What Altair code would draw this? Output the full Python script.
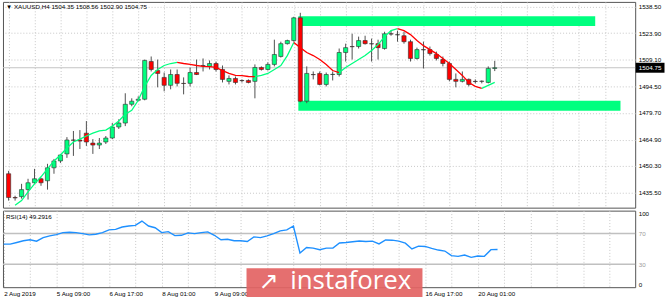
import altair as alt
import pandas as pd

FONT = "Liberation Sans"

# ---- data ----
opens = [1446.0, 1432.8, 1433.3, 1437.2, 1441.0, 1443.2, 1442.1, 1449.3, 1453.1, 1457.0,
         1464.7, 1464.7, 1468.5, 1463.0, 1461.9, 1463.6, 1465.8, 1471.9, 1474.1, 1484.5,
         1486.7, 1487.3, 1508.2, 1503.2, 1499.4, 1495.0, 1501.0, 1496.1, 1496.1, 1502.1,
         1506.0, 1505.5, 1507.1, 1503.8, 1497.2, 1498.8, 1497.7, 1497.7, 1497.2, 1504.9,
         1503.8, 1506.6, 1511.0, 1518.1, 1519.8, 1532.4, 1486.2, 1501.0, 1501.6, 1495.5,
         1501.0, 1501.0, 1513.2, 1516.5, 1516.5, 1519.8, 1518.1, 1518.1, 1515.4, 1523.6,
         1523.1, 1522.5, 1519.2, 1509.9, 1514.8, 1514.8, 1512.1, 1509.3, 1507.1, 1498.3,
         1497.2, 1498.3, 1497.2, 1497.2, 1496.6, 1504.35]
closes = [1432.8, 1432.6, 1437.2, 1441.0, 1443.2, 1441.0, 1449.3, 1453.1, 1456.4, 1464.7,
          1464.6, 1464.1, 1463.6, 1461.9, 1463.0, 1465.8, 1471.9, 1474.1, 1484.5, 1486.2,
          1487.3, 1508.8, 1503.8, 1501.6, 1495.0, 1501.0, 1496.1, 1496.0, 1502.1, 1501.0,
          1505.8, 1507.1, 1503.8, 1498.3, 1498.8, 1496.6, 1497.6, 1496.6, 1504.9, 1503.8,
          1506.6, 1512.1, 1518.1, 1519.8, 1532.4, 1486.2, 1501.6, 1500.9, 1495.5, 1501.0,
          1501.1, 1513.2, 1515.9, 1516.4, 1519.8, 1518.1, 1518.0, 1515.9, 1523.6, 1523.4,
          1523.0, 1519.2, 1509.9, 1514.8, 1514.7, 1512.6, 1509.9, 1507.1, 1498.3, 1497.2,
          1498.3, 1495.5, 1497.1, 1497.3, 1504.4, 1504.75]
highs = [1447.6, 1433.8, 1440.4, 1443.2, 1448.7, 1443.8, 1451.5, 1454.2, 1457.0, 1466.3,
         1469.7, 1470.2, 1475.2, 1465.2, 1465.8, 1466.9, 1474.1, 1476.2, 1490.6, 1487.8,
         1488.9, 1509.3, 1511.0, 1509.3, 1502.1, 1503.8, 1503.8, 1499.4, 1504.9, 1509.3,
         1509.9, 1508.8, 1508.2, 1506.0, 1500.5, 1499.9, 1498.3, 1498.3, 1506.6, 1505.5,
         1507.7, 1520.3, 1519.2, 1520.3, 1533.0, 1535.2, 1505.5, 1502.7, 1502.7, 1502.1,
         1502.7, 1515.4, 1518.1, 1523.6, 1522.0, 1522.5, 1520.9, 1520.3, 1524.7, 1525.3,
         1525.3, 1524.7, 1520.3, 1515.9, 1519.2, 1516.5, 1513.7, 1511.0, 1508.2, 1501.6,
         1502.7, 1498.8, 1498.3, 1497.7, 1505.5, 1508.56]
lows = [1431.1, 1431.1, 1432.2, 1431.7, 1440.4, 1439.3, 1437.2, 1446.0, 1452.0, 1454.8,
        1455.9, 1459.7, 1461.4, 1457.0, 1459.7, 1462.5, 1465.2, 1470.8, 1472.4, 1483.4,
        1486.2, 1486.7, 1502.7, 1493.9, 1491.7, 1492.8, 1494.4, 1490.0, 1494.4, 1500.7,
        1502.7, 1503.8, 1502.7, 1496.6, 1495.5, 1495.5, 1496.6, 1496.1, 1487.8, 1503.2,
        1503.2, 1505.5, 1510.4, 1517.6, 1519.2, 1485.6, 1485.1, 1498.3, 1495.0, 1494.4,
        1497.7, 1499.9, 1508.2, 1509.3, 1515.4, 1517.6, 1508.2, 1509.3, 1514.8, 1522.5,
        1519.2, 1518.1, 1508.2, 1509.3, 1504.4, 1511.5, 1508.8, 1505.5, 1497.2, 1493.9,
        1496.6, 1494.4, 1496.1, 1496.1, 1496.1, 1502.90]

ma_values = [None, 1428.5, 1431.1, 1436.0, 1440.4, 1444.3, 1448.7, 1453.1, 1456.4, 1460.3,
             1463.6, 1465.2, 1466.9, 1468.5, 1469.7, 1470.2, 1472.4, 1475.2, 1479.0, 1481.2,
             1486.7, 1494.4, 1500.5, 1503.8, 1506.0, 1507.1, 1507.7, 1507.1, 1506.6, 1506.0,
             1505.5, 1505.4, 1504.9, 1503.2, 1501.6, 1500.5, 1500.4, 1499.9, 1499.8, 1500.5,
             1501.6, 1503.8, 1506.0, 1511.5, 1518.7, 1515.9, 1513.2, 1511.5, 1509.3, 1506.6,
             1503.2, 1502.1, 1504.9, 1507.1, 1509.3, 1511.5, 1514.3, 1517.6, 1522.0, 1525.3,
             1526.4, 1525.3, 1523.1, 1519.8, 1517.0, 1514.8, 1512.6, 1509.9, 1507.1, 1503.8,
             1500.5, 1496.6, 1494.4, 1493.3, 1495.0, 1496.6]
ma_turns = [1, 26, 38, 44, 51, 60, 73, 75]

rsi_values = [56.2, 56.2, 58.4, 60.6, 61.9, 60.1, 64.8, 67.0, 68.7, 71.3,
              71.7, 71.3, 70.0, 68.3, 69.1, 71.3, 74.8, 75.5, 78.6, 79.9,
              80.7, 86.4, 79.9, 77.7, 71.3, 72.6, 67.4, 67.8, 70.9, 70.0,
              71.3, 72.2, 67.8, 61.9, 62.6, 60.6, 60.6, 59.7, 65.7, 64.8,
              67.0, 70.0, 73.5, 74.8, 79.9, 44.6, 51.9, 51.0, 49.0, 51.0,
              51.0, 57.7, 58.4, 59.3, 60.3, 59.7, 60.1, 56.5, 61.7, 61.4,
              60.1, 57.5, 50.0, 53.6, 53.2, 50.6, 48.5, 47.2, 41.2, 40.3,
              42.0, 39.0, 40.7, 40.3, 49.0, 49.2916]
rsi_levels = [70, 30]

zone_start = [44.7, 44.7]
zone_end = [90.5, 94.4]
zone_high = [1533.3, 1486.4]
zone_low = [1527.9, 1480.9]

price_ticks = [1538.50, 1523.90, 1509.10, 1494.50, 1479.70, 1464.90, 1450.30, 1435.50]
# labels at 40, 48 and 56 lie under the watermark in the reference and are not visible
date_ticks = [0, 8, 16, 24, 32, 64, 72]
date_labels = ["2 Aug 2019", "5 Aug 09:00", "6 Aug 17:00", "8 Aug 01:00", "9 Aug 09:00",
               "16 Aug 17:00", "20 Aug 01:00"]

# ---- tables ----
n = len(opens)
candles = pd.DataFrame({
    "idx": list(range(n)), "open": opens, "close": closes, "high": highs, "low": lows,
})
candles["dir"] = ["up" if c >= o else "down" for o, c in zip(opens, closes)]

ma_rows = []
for s in range(len(ma_turns) - 1):
    trend = "up" if s % 2 == 0 else "down"
    for i in range(ma_turns[s], ma_turns[s + 1] + 1):
        ma_rows.append({"idx": i, "ma": ma_values[i], "seg": s, "trend": trend})
ma_df = pd.DataFrame(ma_rows)

zones = pd.DataFrame({"x0": zone_start, "x1": zone_end, "hi": zone_high, "lo": zone_low})
rsi_df = pd.DataFrame({"idx": list(range(n)), "rsi": rsi_values})
levels_df = pd.DataFrame({"lvl": rsi_levels})
last_df = pd.DataFrame({"close": [closes[-1]], "txt": [f"{closes[-1]:.2f}"]})
header = f"\u25bc XAUUSD,H4  {opens[-1]:.2f} {highs[-1]:.2f} {lows[-1]:.2f} {closes[-1]:.2f}"
one = pd.DataFrame({"a": [0]})

xscale = alt.Scale(domain=[-0.1, 95.9], nice=False, zero=False)
yscale = alt.Scale(domain=[1427.2, 1541.25], nice=False, zero=False)

label_expr = " : ".join(
    f"datum.value == {v} ? '{t}'" for v, t in zip(date_ticks, date_labels)) + " : ''"

x_main_axis = alt.Axis(values=list(range(0, 96, 4)), labels=False, ticks=False,
                       domain=False, grid=True, gridColor="#c8c8c8", gridDash=[1, 2],
                       title=None)
y_main_axis = alt.Axis(values=price_ticks, format=".2f", orient="right", grid=True,
                       gridColor="#c8c8c8", gridDash=[1, 2], ticks=False, domain=False,
                       labelPadding=3, labelOverlap=False, labelBound=False, title=None)

base = alt.Chart(candles)

price_line = alt.Chart(last_df).mark_rule(color="#c4c4c4", strokeWidth=1).encode(
    y=alt.Y("close:Q", scale=yscale, axis=y_main_axis))

zone_marks = alt.Chart(zones).mark_rect(color="#00FF7F").encode(
    x=alt.X("x0:Q", scale=xscale, axis=x_main_axis), x2="x1:Q",
    y=alt.Y("hi:Q", scale=yscale, axis=y_main_axis), y2="lo:Q")

wicks = base.mark_rule(color="#505050", strokeWidth=1, clip=True).encode(
    x=alt.X("idx:Q", scale=xscale, axis=x_main_axis),
    y=alt.Y("low:Q", scale=yscale, axis=y_main_axis), y2="high:Q")

bodies = base.mark_bar(size=4.2, stroke="#303030", strokeWidth=0.6, clip=True).encode(
    x=alt.X("idx:Q", scale=xscale, axis=x_main_axis),
    y=alt.Y("open:Q", scale=yscale, axis=y_main_axis), y2="close:Q",
    color=alt.Color("dir:N", scale=alt.Scale(domain=["up", "down"],
                                             range=["#00FF7F", "#FF0000"]), legend=None))

ma_line = alt.Chart(ma_df).mark_line(strokeWidth=1.3, clip=True).encode(
    x=alt.X("idx:Q", scale=xscale, axis=x_main_axis),
    y=alt.Y("ma:Q", scale=yscale, axis=y_main_axis),
    detail="seg:N",
    color=alt.Color("trend:N", scale=alt.Scale(domain=["up", "down"],
                                               range=["#3CB371", "#FF1A1A"]), legend=None))

price_box = alt.Chart(last_df).mark_point(
    shape="M-2.9,-1L2.9,-1L2.9,1L-2.9,1Z", size=100, filled=True, color="#000000",
    opacity=1).encode(x=alt.value(651), y=alt.Y("close:Q", scale=yscale, axis=y_main_axis))
price_txt = alt.Chart(last_df).mark_text(color="#ffffff", fontSize=6.3, font=FONT,
                                         align="center", baseline="middle").encode(
    x=alt.value(651), y=alt.Y("close:Q", scale=yscale, axis=y_main_axis), text="txt:N")

head_txt = alt.Chart(one).mark_text(text=header, fontSize=6.3, font=FONT, align="left",
                                    baseline="middle", color="#000000").encode(
    x=alt.value(3), y=alt.value(5.5))

main = alt.layer(price_line, zone_marks, wicks, bodies, ma_line, price_box, price_txt,
                 head_txt).properties(width=636, height=207)

# ---- RSI panel ----
x_rsi_axis = alt.Axis(
    values=list(range(0, 96, 4)), labelExpr=label_expr, ticks=False, domain=False,
    grid=True, gridColor="#c8c8c8", gridDash=[1, 2], labelAlign="left",
    labelPadding=3, labelOverlap=False, labelBound=False, title=None)
rsi_scale = alt.Scale(domain=[0, 100], nice=False)
y_rsi_axis = alt.Axis(
    values=[0, 30, 70, 100], orient="right", grid=False, ticks=False, domain=False,
    labelFlush=True, labelPadding=3, labelOverlap=False, title=None,
    labelColor={"condition": {"test": "datum.value == 30 || datum.value == 70",
                              "value": "#9a9a9a"}, "value": "#000000"})

rsi_line = alt.Chart(rsi_df).mark_line(color="#1E90FF", strokeWidth=1.4).encode(
    x=alt.X("idx:Q", scale=xscale, axis=x_rsi_axis),
    y=alt.Y("rsi:Q", scale=rsi_scale, axis=y_rsi_axis))

level_rules = alt.Chart(levels_df).mark_rule(color="#c0c0c0", strokeWidth=1.5).encode(
    y=alt.Y("lvl:Q", scale=rsi_scale, axis=y_rsi_axis))

rsi_txt = alt.Chart(one).mark_text(text="RSI(14) 49.2916", fontSize=6.3, font=FONT,
                                   align="left", baseline="middle", color="#000000").encode(
    x=alt.value(3), y=alt.value(6))

# watermark (decoration)
wm_box = alt.Chart(one).mark_rect(color="#E36464", opacity=0.93).encode(
    x=alt.value(245), x2=alt.value(422), y=alt.value(58), y2=alt.value(89))
wm_text = alt.Chart(one).mark_text(text="instaforex", font="Open Sans", fontSize=26,
                                   color="#ffffff", align="left",
                                   baseline="alphabetic").encode(
    x=alt.value(289), y=alt.value(79))
wm_logo = alt.Chart(one).mark_text(text="\u2197", font="DejaVu Sans", fontSize=24,
                                   color="#ffffff", align="center",
                                   baseline="middle").encode(
    x=alt.value(267), y=alt.value(72))

rsi = alt.layer(level_rules, rsi_line, rsi_txt, wm_box, wm_logo, wm_text).properties(
    width=636, height=77)

chart = alt.vconcat(main, rsi, spacing=1).properties(
    padding={"left": 0, "top": 0, "right": 0, "bottom": 0}, background="#ffffff"
).configure_view(stroke="#555555", strokeWidth=1).configure_axis(
    labelFont=FONT, labelFontSize=6.3, labelColor="#000000", labelOverlap=False
).configure_concat(spacing=1)

chart.save("out.html", embed_options={"renderer": "svg", "actions": False})
